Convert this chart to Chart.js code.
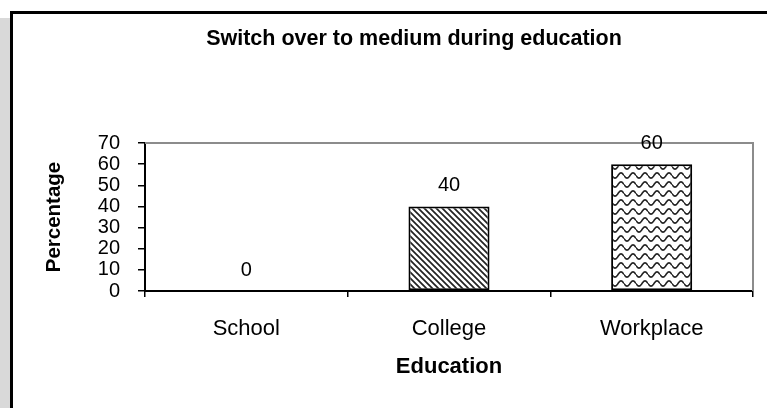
<!DOCTYPE html>
<html>
<head>
<meta charset="utf-8">
<script src="https://cdn.jsdelivr.net/npm/chart.js@4"></script>
<style>
  html, body { margin: 0; padding: 0; background: #fff; }
  body { width: 767px; height: 408px; position: relative; overflow: hidden; }
  #strip { position: absolute; left: 0; top: 18px; width: 10px; height: 400px; background: #d9d9d9; }
  #frame { position: absolute; left: 10px; top: 11px; width: 800px; height: 420px;
           border-left: 3px solid #000; border-top: 3px solid #000; background: #fff; }
  #wrap { position: absolute; left: 0; top: 0; width: 767px; height: 408px; }
</style>
</head>
<body>
<div id="strip"></div>
<div id="frame"></div>
<div id="wrap"><canvas id="chart"></canvas></div>
<script>
const categories = ["School", "College", "Workplace"];
const percentages = [0, 40, 60];
const yTicks = [0, 10, 20, 30, 40, 50, 60, 70];

const FONT = "'Liberation Sans', Arial, sans-serif";

// hatch fills
function diagonalPattern() {
  const c = document.createElement("canvas");
  c.width = 6; c.height = 6;
  const g = c.getContext("2d");
  g.fillStyle = "#fff";
  g.fillRect(0, 0, 6, 6);
  g.strokeStyle = "#222";
  g.lineWidth = 1.7;
  g.beginPath();
  g.moveTo(-1, -1); g.lineTo(7, 7);
  g.moveTo(-7, -1); g.lineTo(1, 7);
  g.moveTo(5, -1); g.lineTo(13, 7);
  g.stroke();
  return g.createPattern(c, "repeat");
}

function wavePattern() {
  const c = document.createElement("canvas");
  c.width = 12; c.height = 9;
  const g = c.getContext("2d");
  g.fillStyle = "#fff";
  g.fillRect(0, 0, 12, 9);
  g.strokeStyle = "#222";
  g.lineWidth = 1.6;
  g.beginPath();
  for (let x = 0; x <= 12; x += 0.5) {
    const y = 4.5 + 2.6 * Math.sin((x / 12) * Math.PI * 2);
    if (x === 0) g.moveTo(x, y); else g.lineTo(x, y);
  }
  g.stroke();
  return g.createPattern(c, "repeat");
}

const fills = ["#fff", diagonalPattern(), wavePattern()];

const chartExtras = {
  id: "chartExtras",
  afterDraw(chart) {
    const ctx = chart.ctx;
    const a = chart.chartArea;
    ctx.save();
    // top and right frame of the plot
    ctx.strokeStyle = "#8c8c8c";
    ctx.lineWidth = 2;
    ctx.beginPath();
    ctx.moveTo(a.left, a.top);
    ctx.lineTo(a.right, a.top);
    ctx.lineTo(a.right, a.bottom);
    ctx.stroke();
    // title
    ctx.fillStyle = "#000";
    ctx.font = "bold 21.5px " + FONT;
    ctx.textAlign = "center";
    ctx.textBaseline = "alphabetic";
    ctx.fillText("Switch over to medium during education", 414, 45);
    // value labels
    ctx.font = "20px " + FONT;
    ctx.textBaseline = "middle";
    const meta = chart.getDatasetMeta(0);
    meta.data.forEach((bar, i) => {
      ctx.fillText(String(percentages[i]), bar.x, bar.y - 21);
    });
    ctx.restore();
  }
};

new Chart(document.getElementById("chart"), {
  type: "bar",
  data: {
    labels: categories,
    datasets: [{
      data: percentages,
      backgroundColor: fills,
      borderColor: "#000",
      borderWidth: 2,
      borderSkipped: false,
      barPercentage: 0.4,
      categoryPercentage: 1.0,
    }],
  },
  options: {
    responsive: true,
    maintainAspectRatio: false,
    animation: false,
    layout: { padding: { left: 30, right: 14, top: 143, bottom: 0 } },
    plugins: {
      legend: { display: false },
      tooltip: { enabled: false },
    },
    scales: {
      x: {
        afterFit: (s) => { s.height = 117; },
        grid: { display: true, drawOnChartArea: false, offset: true, tickLength: 6, color: "#000", lineWidth: 1.5 },
        border: { display: true, color: "#000", width: 2 },
        ticks: { color: "#000", padding: 19, font: { family: FONT, size: 22 } },
        title: { display: true, text: "Education", color: "#000", padding: { top: 0, bottom: 28 },
                 font: { family: FONT, size: 22, weight: "bold" } },
      },
      y: {
        min: 0,
        max: 70,
        afterFit: (s) => { s.width = 115; },
        afterBuildTicks: (s) => { s.ticks = yTicks.map((v) => ({ value: v })); },
        grid: { display: true, drawOnChartArea: false, tickLength: 7, color: "#000", lineWidth: 1.5 },
        border: { display: true, color: "#000", width: 2 },
        ticks: { color: "#000", padding: 18, autoSkip: false, font: { family: FONT, size: 20, lineHeight: 1 } },
        title: { display: true, text: "Percentage", color: "#000", padding: { top: 12, bottom: 0 },
                 font: { family: FONT, size: 20.5, weight: "bold" } },
      },
    },
  },
  plugins: [chartExtras],
});
</script>
</body>
</html>
